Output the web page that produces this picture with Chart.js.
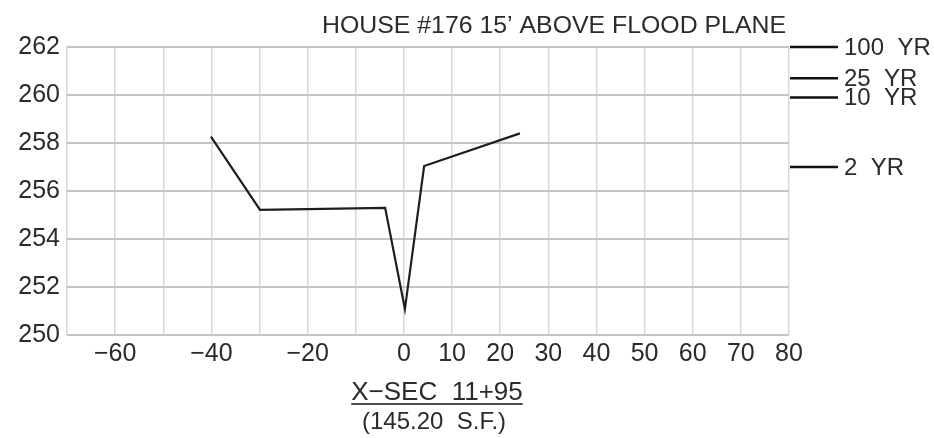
<!DOCTYPE html>
<html>
<head>
<meta charset="utf-8">
<script src="https://cdn.jsdelivr.net/npm/chart.js@4/dist/chart.umd.min.js"></script>
<style>
  html, body { margin: 0; padding: 0; background: #ffffff; }
  #wrap { position: relative; width: 934px; height: 438px; }
  canvas { display: block; }
</style>
</head>
<body>
<div id="wrap"><canvas id="c" width="934" height="438"></canvas></div>
<script>
// ---- data ----
const stations   = [-40.1, -29.9, -3.9, 0.2, 4.2, 24.1];          // ft from centerline
const elevations = [258.27, 255.21, 255.30, 251.08, 257.04, 258.40]; // ground elevation
const xTickLabels = [-60, -40, -20, 0, 10, 20, 30, 40, 50, 60, 70, 80];
const yTickValues = [250, 252, 254, 256, 258, 260, 262];
const floodLabels = ['100 YR', '25 YR', '10 YR', '2 YR'];
const floodElevations = [262.0, 260.7, 259.9, 257.0];
const titleText = "HOUSE #176 15\u2019 ABOVE FLOOD PLANE";
const sectionText = "X\u2212SEC  11+95";
const areaText = "(145.20  S.F.)";

const FONT = "'Liberation Sans', Arial, sans-serif";
const INK = '#2b2b2b';

const annotate = {
  id: 'annotate',
  afterDraw(chart) {
    const ctx = chart.ctx;
    const ca = chart.chartArea;
    const ys = chart.scales.y;
    ctx.save();
    ctx.fillStyle = INK;
    ctx.strokeStyle = '#111';
    // title
    ctx.font = '24px ' + FONT;
    ctx.textBaseline = 'alphabetic';
    ctx.textAlign = 'left';
    const tw = ctx.measureText(titleText).width;
    const targetW = 464;
    ctx.save();
    ctx.translate(322, 33);
    ctx.scale(targetW / tw, 1);
    ctx.fillText(titleText, 0, 0);
    ctx.restore();
    // flood level markers
    ctx.lineWidth = 2.5;
    ctx.textBaseline = 'middle';
    ctx.font = '24px ' + FONT;
    floodLabels.forEach((lab, i) => {
      const y = ys.getPixelForValue(floodElevations[i]);
      ctx.beginPath();
      ctx.moveTo(ca.right + 1, y);
      ctx.lineTo(ca.right + 49, y);
      ctx.stroke();
      ctx.fillText(lab.replace(' ', '  '), ca.right + 55, y + 1);
    });
    // section label
    ctx.textAlign = 'center';
    ctx.textBaseline = 'alphabetic';
    ctx.font = '26px ' + FONT;
    const cx = 437;
    ctx.fillText(sectionText, cx, 400);
    const sw = ctx.measureText(sectionText).width;
    ctx.lineWidth = 1.5;
    ctx.beginPath();
    ctx.moveTo(cx - sw / 2, 404);
    ctx.lineTo(cx + sw / 2, 404);
    ctx.stroke();
    ctx.font = '24px ' + FONT;
    ctx.fillText(areaText, 434, 429);
    ctx.restore();
  }
};

new Chart(document.getElementById('c'), {
  type: 'line',
  data: {
    datasets: [{
      data: stations.map((x, i) => ({ x: x, y: elevations[i] })),
      borderColor: '#1e1e1e',
      borderWidth: 2.2,
      pointRadius: 0,
      tension: 0,
      fill: false
    }]
  },
  options: {
    responsive: false,
    animation: false,
    devicePixelRatio: 1,
    layout: { padding: { top: 47, right: 145, bottom: 63, left: 0 } },
    plugins: { legend: { display: false }, tooltip: { enabled: false }, title: { display: false } },
    scales: {
      x: {
        type: 'linear',
        min: -70, max: 80,
        afterFit(s) { s.height = 40; },
        grid: { color: '#d8d8d8', lineWidth: 1.5, drawTicks: false },
        border: { display: false },
        ticks: {
          stepSize: 10,
          padding: 4,
          color: INK,
          font: { family: FONT, size: 25 },
          maxRotation: 0,
          autoSkip: false,
          callback(v) {
            if (!xTickLabels.includes(v)) return '';
            return v < 0 ? '\u2212' + Math.abs(v) : String(v);
          }
        }
      },
      y: {
        type: 'linear',
        min: 250, max: 262,
        afterFit(s) { s.width = 67; },
        afterBuildTicks(s) { s.ticks = yTickValues.map(v => ({ value: v })); },
        grid: { color: '#c4c4c4', lineWidth: 2, drawTicks: false },
        border: { display: false },
        ticks: {
          padding: 7,
          color: INK,
          font: { family: FONT, size: 25 }
        }
      }
    }
  },
  plugins: [annotate]
});
</script>
</body>
</html>
